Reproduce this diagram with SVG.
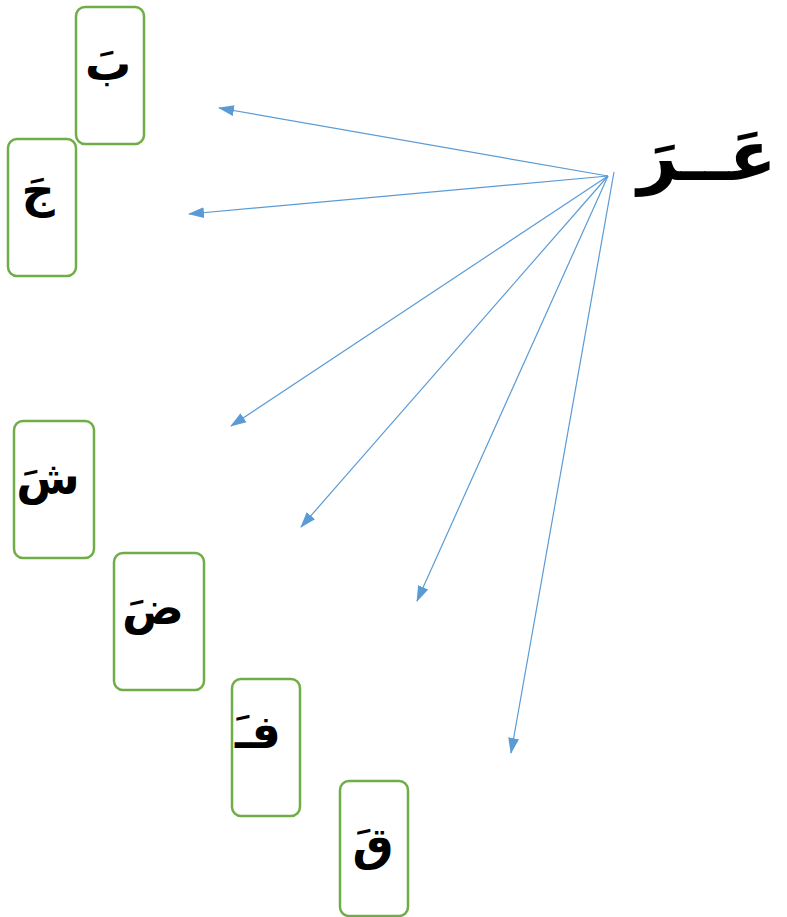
<svg xmlns="http://www.w3.org/2000/svg" width="787" height="917" viewBox="0 0 787 917">
<defs>
<style>
.box{fill:#fff;stroke:#70AD47;stroke-width:2.5}
.lt{font-family:"DejaVu Sans",sans-serif;font-weight:bold;font-size:46px;fill:#000;text-anchor:middle}
.big{font-family:"DejaVu Sans",sans-serif;font-weight:bold;font-size:70px;fill:#000;text-anchor:middle}
.ar{stroke:#5B9BD5;stroke-width:1.2;fill:none;marker-end:url(#ah)}
</style>
<marker id="ah" markerUnits="userSpaceOnUse" markerWidth="16" markerHeight="12" refX="15" refY="5.5" orient="auto" viewBox="0 0 16 11">
<path d="M0,0 L16,5.5 L0,11 z" fill="#5B9BD5"/>
</marker>
</defs>
<rect width="787" height="917" fill="#fff"/>
<g id="root"><text class="big" x="707" y="180" direction="rtl">عَــرَ</text></g>
<g id="n-ba"><rect class="box" x="76" y="7" width="68" height="137" rx="9"/><text class="lt" x="108" y="80" direction="rtl">بَ</text></g>
<g id="n-jim"><rect class="box" x="8" y="139" width="68" height="137" rx="9"/><text class="lt" x="38" y="207" direction="rtl">جَ</text></g>
<g id="n-shin"><rect class="box" x="14" y="421" width="80" height="137" rx="9"/><text class="lt" x="48" y="494" direction="rtl">شَ</text></g>
<g id="n-dad"><rect class="box" x="114" y="553" width="90" height="137" rx="9"/><text class="lt" x="153" y="624" direction="rtl">ضَ</text></g>
<g id="n-fa"><rect class="box" x="232" y="679" width="68" height="137" rx="9"/><text class="lt" x="258" y="748" direction="rtl">فـَ</text></g>
<g id="n-qaf"><rect class="box" x="340" y="781" width="68" height="135" rx="9"/><text class="lt" x="373" y="860" direction="rtl">قَ</text></g>
<g id="connectors">
<line class="ar" x1="608" y1="176" x2="219" y2="108"/>
<line class="ar" x1="608" y1="176" x2="189" y2="214"/>
<line class="ar" x1="608" y1="176" x2="231" y2="426"/>
<line class="ar" x1="608" y1="176" x2="301" y2="527"/>
<line class="ar" x1="608" y1="176" x2="417" y2="601"/>
<line class="ar" x1="614" y1="172" x2="511" y2="753"/>
</g>
</svg>
